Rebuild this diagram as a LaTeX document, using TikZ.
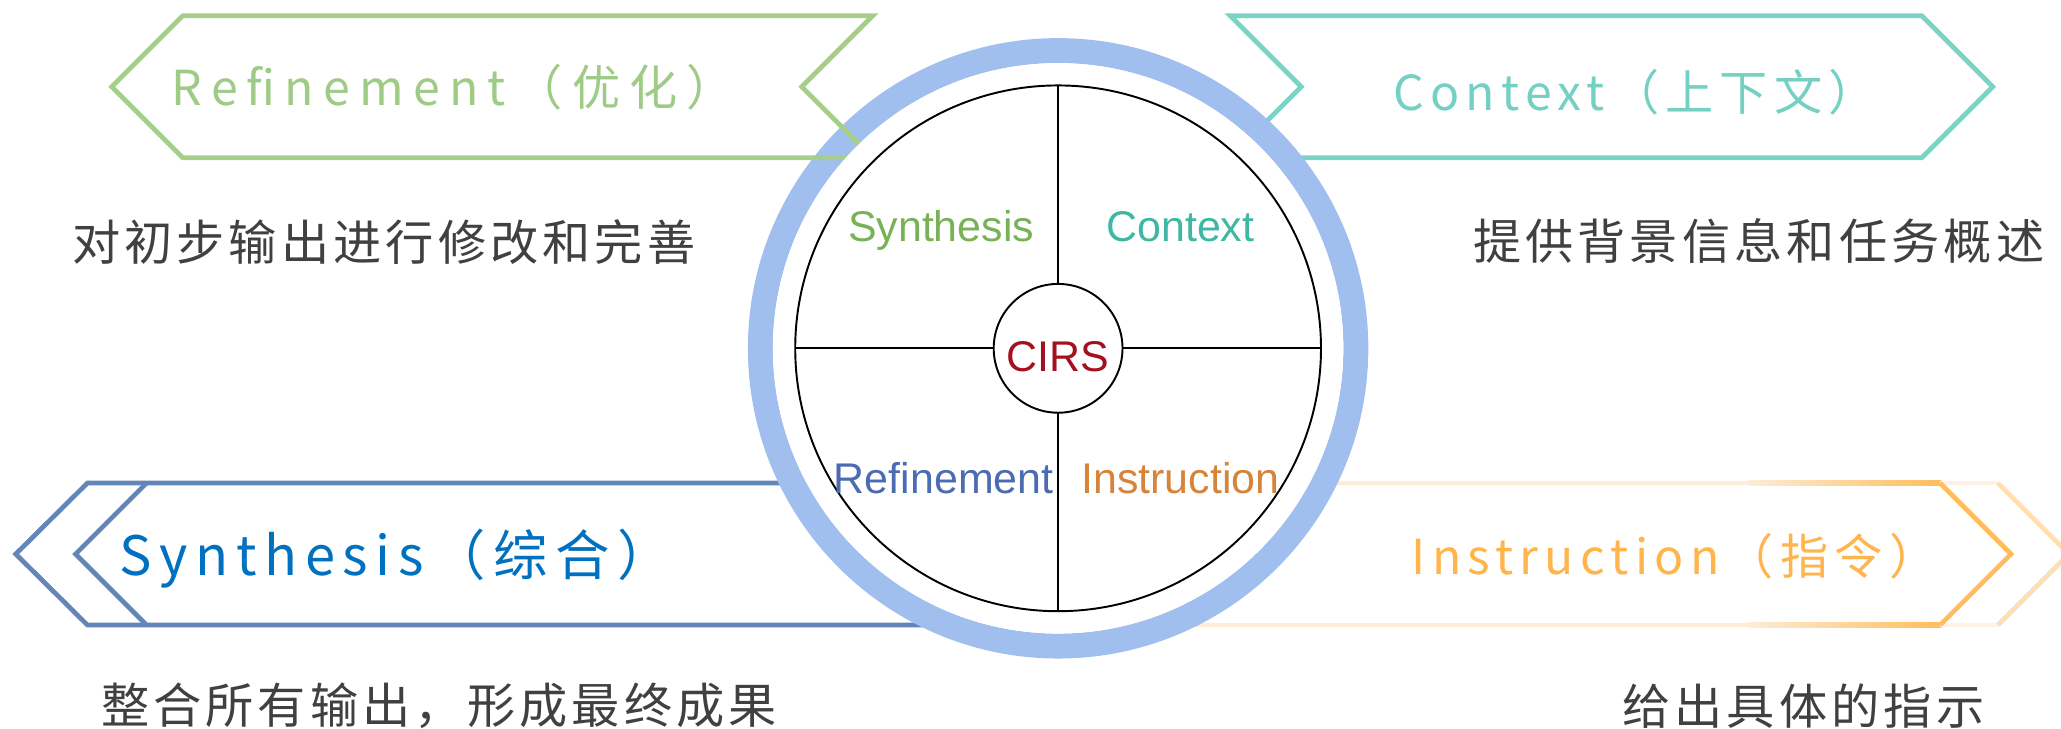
\documentclass[tikz,border=0pt]{standalone}
\usepackage{fontspec}
\setmainfont{Liberation Sans}
\newfontfamily\bannerfont[LetterSpace=13]{Noto Sans CJK SC}
\newfontfamily\widebannerfont[LetterSpace=19]{Noto Sans CJK SC}
\newfontfamily\synthfont[LetterSpace=14]{Noto Sans CJK SC}
\newfontfamily\notefont[LetterSpace=8.5]{Noto Sans CJK SC}
\tikzset{every picture/.style={line width=0.75pt}}

\definecolor{refgreen}{RGB}{166,206,139}
\definecolor{reftext}{RGB}{158,203,134}
\definecolor{ctxteal}{RGB}{122,212,198}
\definecolor{ctxtext}{RGB}{116,208,195}
\definecolor{synblue}{RGB}{99,134,184}
\definecolor{syntext}{RGB}{0,112,192}
\definecolor{instorange}{RGB}{255,189,92}
\definecolor{insttext}{RGB}{255,180,76}
\definecolor{instlight}{RGB}{255,222,178}
\definecolor{instpale}{RGB}{253,236,214}
\definecolor{instfaint}{RGB}{254,242,228}
\definecolor{ringblue}{RGB}{160,191,238}
\definecolor{notegray}{RGB}{64,64,64}
\definecolor{wgreen}{RGB}{120,178,86}
\definecolor{wteal}{RGB}{62,184,164}
\definecolor{wblue}{RGB}{75,108,178}
\definecolor{worange}{RGB}{214,132,58}
\definecolor{cirsred}{RGB}{165,16,32}

\begin{document}
\begin{tikzpicture}[x=0.75pt,y=0.75pt,yscale=-1,xscale=1,
  banner/.style={line width=2.7pt, line join=miter},
  heading/.style={inner sep=0.75pt, anchor=center, font=\bannerfont\fontsize{27.5}{30}\selectfont},
  note/.style={inner sep=0.75pt, anchor=center, text=notegray, font=\notefont\fontsize{27.5}{30}\selectfont},
  wedge/.style={inner sep=0pt, anchor=base, font=\fontsize{24.5}{28}\selectfont},
  rim/.style={circle, inner sep=0pt, outer sep=0pt}]
\useasboundingbox (0,0) rectangle (1568,554);

%Shape: Banner [id:context]
\draw [banner, draw=ctxteal] (936,12) -- (1462,12) -- (1516,66) -- (1462,120) -- (936,120) -- (990,66) -- cycle ;
%Shape: Banner [id:synthesis]
\draw [banner, draw=synblue] (805,367.5) -- (66.5,367.5) -- (12,421.5) -- (66.5,475.5) -- (805,475.5) ;
\draw [banner, draw=synblue] (111.5,367.5) -- (57.5,421.5) -- (111.5,475.5) ;
%Shape: Banner [id:instruction]
\fill [instpale] (805,365.7) rectangle (1330,369.3) ;
\fill [instpale] (805,473.7) rectangle (1330,477.3) ;
\shade [left color=instpale, right color=instorange] (1330,365.7) rectangle (1477,369.3) ;
\shade [left color=instpale, right color=instorange] (1330,473.7) rectangle (1477,477.3) ;
\draw [banner, draw=instfaint] (1476,367.5) -- (1520,367.5) ;
\draw [banner, draw=instfaint] (1476,475.5) -- (1520,475.5) ;
\draw [banner, draw=instlight] (1520,367.5) -- (1574,421.5) -- (1520,475.5) ;
\draw [banner, draw=instorange] (1476,367.5) -- (1530,421.5) -- (1476,475.5) ;

%Shape: Circle [id:ring]
\coordinate (hub) at (805,265) ;
\node [rim, draw=ringblue, fill=white, line width=14.25pt, minimum size=339.75pt] (ring) at (hub) {} ;

%Shape: Banner [id:refinement]
\draw [banner, draw=refgreen] (139,12) -- (664,12) -- (610,66) -- (664,120) -- (139,120) -- (85,66) -- cycle ;

%Shape: Circle [id:wheel]
\node [rim, fill=white, minimum size=325.5pt] (disk) at (hub) {} ;
\node [rim, draw, line width=1.1pt, minimum size=300pt] (wheel) at (hub) {} ;
\node [rim, draw, line width=1.1pt, minimum size=73.5pt, text=cirsred, text height=26pt, text depth=0pt, font=\fontsize{24.5}{28}\selectfont] (cirs) at (hub) {CIRS} ;
%Straight Lines [id:spokes]
\draw [line width=1.1pt] (wheel.north) -- (cirs.north) ;
\draw [line width=1.1pt] (cirs.south) -- (wheel.south) ;
\draw [line width=1.1pt] (wheel.west) -- (cirs.west) ;
\draw [line width=1.1pt] (cirs.east) -- (wheel.east) ;

% Text Node
\node [wedge, text=wgreen] (synwedge) at (716,184) {Synthesis} ;
% Text Node
\node [wedge, text=wteal] (ctxwedge) at (898,184) {Context} ;
% Text Node
\node [wedge, text=wblue] (refwedge) at (718,375.5) {Refinement} ;
% Text Node
\node [wedge, text=worange] (instwedge) at (898,375.5) {Instruction} ;

% Text Node
\node [heading, text=reftext, font=\widebannerfont\fontsize{27.5}{30}\selectfont] (reftitle) at (345,66) {Refinement（优化）} ;
% Text Node
\node [heading, text=ctxtext] (ctxtitle) at (1244,70) {Context（上下文）} ;
% Text Node
\node [heading, text=syntext, font=\synthfont\fontsize{31}{34}\selectfont] (syntitle) at (301,425) {Synthesis（综合）} ;
% Text Node
\node [heading, text=insttext] (insttitle) at (1274,423) {Instruction（指令）} ;

% Text Node
\node [note] (refnote) at (292,184) {对初步输出进行修改和完善} ;
% Text Node
\node [note] (ctxnote) at (1338,183) {提供背景信息和任务概述} ;
% Text Node
\node [note] (synnote) at (334,537) {整合所有输出，形成最终成果} ;
% Text Node
\node [note] (instnote) at (1372,537) {给出具体的指示} ;

\end{tikzpicture}
\end{document}
